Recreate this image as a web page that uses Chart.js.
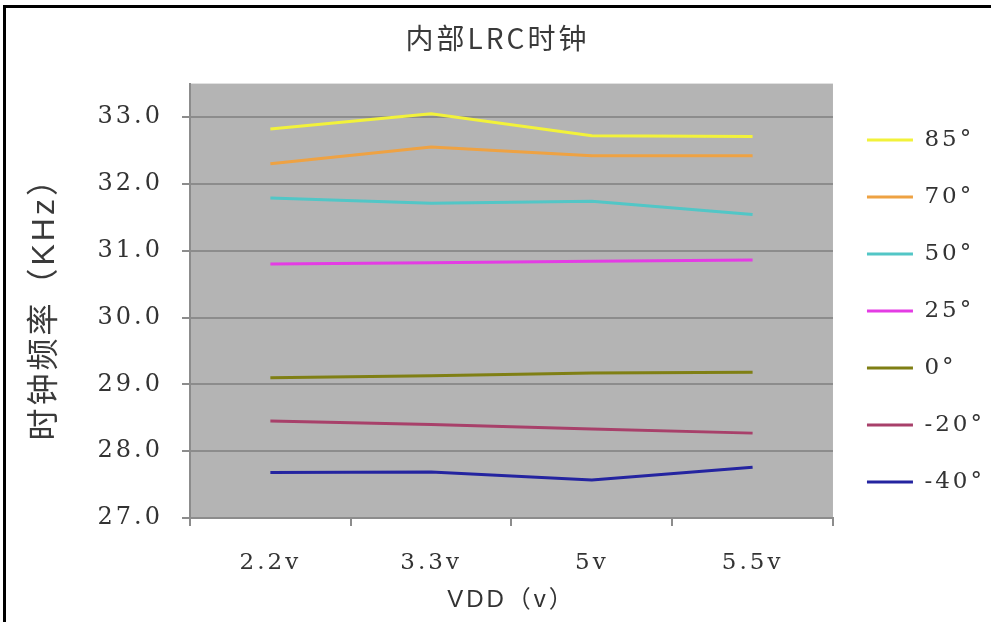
<!DOCTYPE html>
<html>
<head>
<meta charset="utf-8">
<script src="https://cdn.jsdelivr.net/npm/chart.js@4/dist/chart.umd.min.js"></script>
<style>
  html, body { margin: 0; padding: 0; background: #fff; }
  canvas { display: block; }
</style>
</head>
<body>
<canvas id="lrcChart" width="991" height="622"></canvas>
<script>
// VDD categories and temperature series (kHz)
const vddLabels = ["2.2v", "3.3v", "5v", "5.5v"];
const tempLabels = ["85°", "70°", "50°", "25°", "0°", "-20°", "-40°"];
const f85 = [32.82, 33.05, 32.72, 32.71];
const f70 = [32.30, 32.55, 32.42, 32.42];
const f50 = [31.79, 31.71, 31.74, 31.54];
const f25 = [30.80, 30.82, 30.84, 30.86];
const f0 = [29.10, 29.13, 29.17, 29.18];
const fMinus20 = [28.45, 28.40, 28.33, 28.27];
const fMinus40 = [27.68, 27.69, 27.57, 27.76];
const lineColors = ["#f2f23a", "#eea243", "#52c6c6", "#e43ce4", "#7f7f14", "#a8406a", "#2424a0"];

const seriesValues = [f85, f70, f50, f25, f0, fMinus20, fMinus40];

const serif = "'DejaVu Serif', serif";
const cjkSans = "'Liberation Sans', 'Noto Sans CJK SC', sans-serif";

// white page, black frame on top/left, gray plot area
const framePlugin = {
    id: "frame",
    beforeUpdate(chart) {
        chart.ctx.letterSpacing = "3px";
    },
    beforeDraw(chart) {
        const ctx = chart.ctx;
        const a = chart.chartArea;
        ctx.save();
        ctx.fillStyle = "#ffffff";
        ctx.fillRect(0, 0, chart.width, chart.height);
        ctx.fillStyle = "#b4b4b4";
        ctx.fillRect(a.left, a.top, a.right - a.left, a.bottom - a.top);
        ctx.fillStyle = "#000000";
        ctx.fillRect(3, 5, chart.width - 3, 3);
        ctx.fillRect(3, 5, 3, chart.height - 5);
        ctx.restore();
        ctx.letterSpacing = "3px";
    }
};

const ctx = document.getElementById("lrcChart").getContext("2d");

new Chart(ctx, {
    type: "line",
    data: {
        labels: vddLabels,
        datasets: seriesValues.map((vals, i) => ({
            label: tempLabels[i],
            data: vals,
            borderColor: lineColors[i],
            backgroundColor: lineColors[i],
            borderWidth: 3,
            pointRadius: 0,
            tension: 0,
            fill: false
        }))
    },
    options: {
        responsive: false,
        animation: false,
        layout: { padding: { right: -4 } },
        plugins: {
            title: {
                display: true,
                text: "内部LRC时钟",
                color: "#3a3a3a",
                font: { family: "'Noto Sans CJK SC', sans-serif", size: 28, weight: "normal" },
                padding: { top: 22, bottom: 28 }
            },
            legend: {
                position: "right",
                align: "center",
                labels: {
                    usePointStyle: true,
                    pointStyle: "line",
                    pointStyleWidth: 46,
                    boxWidth: 46,
                    padding: 34,
                    color: "#333333",
                    font: { family: serif, size: 23 }
                }
            },
            tooltip: { enabled: false }
        },
        scales: {
            x: {
                offset: true,
                afterFit(scale) { scale.height = 104; },
                grid: {
                    offset: true,
                    drawOnChartArea: false,
                    tickLength: 8,
                    color: "#8c8c8c",
                    lineWidth: 2
                },
                border: { color: "#8c8c8c", width: 2 },
                ticks: {
                    padding: 23,
                    color: "#333333",
                    font: { family: serif, size: 23 }
                },
                title: {
                    display: true,
                    text: "VDD（v）",
                    color: "#333333",
                    font: { family: cjkSans, size: 24 },
                    padding: { top: 6, bottom: 7 }
                }
            },
            y: {
                min: 27,
                max: 33.5,
                afterFit(scale) { scale.width = 190; },
                afterBuildTicks(scale) {
                    scale.ticks = scale.ticks.filter(t => Number.isInteger(t.value));
                },
                grid: {
                    color: "#8c8c8c",
                    lineWidth: 2,
                    tickLength: 8
                },
                border: { color: "#8c8c8c", width: 2 },
                ticks: {
                    stepSize: 1,
                    padding: 19,
                    color: "#333333",
                    font: { family: serif, size: 24 },
                    callback: v => v.toFixed(1)
                },
                title: {
                    display: true,
                    text: "时钟频率（KHz）",
                    color: "#3a3a3a",
                    font: { family: cjkSans, size: 32 },
                    padding: { top: 26, bottom: 0 }
                }
            }
        }
    },
    plugins: [framePlugin]
});
</script>
</body>
</html>
